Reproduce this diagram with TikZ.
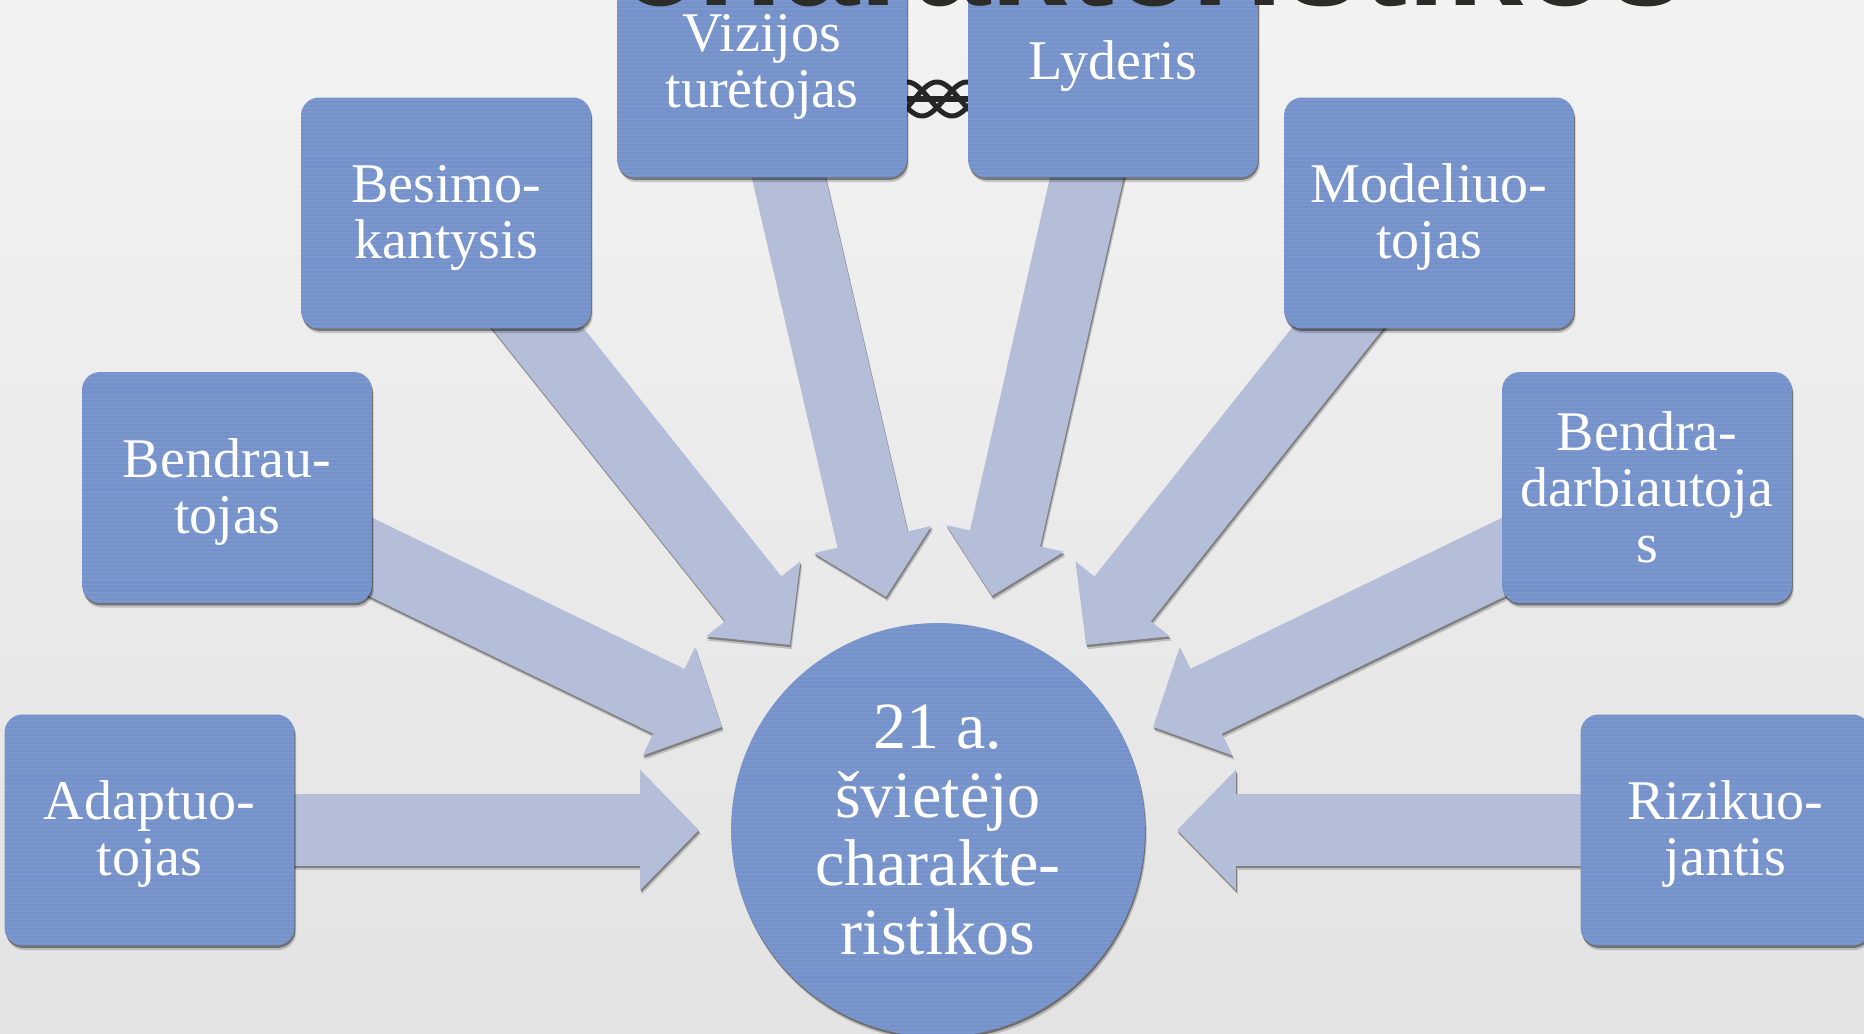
\documentclass[tikz,border=0pt]{standalone}
\usepackage{fontspec}
\setmainfont{Liberation Serif}
\newfontfamily\titlefont{Liberation Sans}
\usetikzlibrary{arrows.meta,backgrounds,shadows}
\definecolor{boxblue}{HTML}{7491CA}
\definecolor{arrowblue}{HTML}{B5BED8}
\definecolor{titleblack}{HTML}{2B2B28}
\newcommand{\lowline}{\rule{0pt}{0.95cm}}
\tikzset{
	stripes/.style={path picture={\foreach \i in {-52,...,52} \draw[white,opacity=.06,line width=1.1pt] ([yshift=\i*2.3pt]path picture bounding box.west) -- ([yshift=\i*2.3pt]path picture bounding box.east);}},
	softshadow/.style={drop shadow={shadow xshift=1pt,shadow yshift=-2.6pt,opacity=.18,fill=black},drop shadow={shadow xshift=.5pt,shadow yshift=-1.4pt,opacity=.4,fill=black}},
	rolebox/.style={rectangle,rounded corners=0.36cm,fill=boxblue,minimum width=5.8cm,minimum height=4.62cm,inner sep=0,align=center,text=white,font=\fontsize{31.9}{31.9}\selectfont,stripes,softshadow},
	hubcircle/.style={circle,fill=boxblue,minimum size=8.28cm,inner sep=0,align=center,text=white,font=\fontsize{37.6}{39}\selectfont,stripes,softshadow},
	fatarrow/.style={line width=1.44cm,-{Triangle[length=1.18cm,width=2.34cm]}},
	rope/.style={line width=0.1cm,draw=black!85}
}
\begin{document}
\begin{tikzpicture}[x=0.02cm,y=-0.02cm]
	\useasboundingbox (0,0) rectangle (1864,1034);
	\node[rolebox] (adaptuo) at (149.5,830) {\lowline Adaptuo-\\tojas};
	\node[rolebox] (bendrau) at (227,487.5) {\lowline Bendrau-\\tojas};
	\node[rolebox] (besimo) at (446,213) {\lowline Besimo-\\kantysis};
	\node[rolebox] (vizijos) at (762,62) {\lowline Vizijos\\turėtojas};
	\node[rolebox] (lyderis) at (1113,62) {\lowline Lyderis};
	\node[rolebox] (modeliuo) at (1429,213) {\lowline Modeliuo-\\tojas};
	\node[rolebox] (bendra) at (1647,487.5) {Bendra-\\darbiautoja\\s};
	\node[rolebox] (rizikuo) at (1725.5,830) {\lowline Rizikuo-\\jantis};
	\node[hubcircle] (hub) at (938,830) {21 a.\\švietėjo\\charakte-\\ristikos};
	\node[anchor=base,text=titleblack,font=\titlefont\bfseries\fontsize{79}{79}\selectfont] (title) at (1153,6) {charakteristikos};
	\coordinate (adaptuotip) at (699,830);
	\coordinate (bendrautip) at (722,727);
	\coordinate (besimotip) at (790,645);
	\coordinate (vizijostip) at (886,597);
	\coordinate (lyderistip) at (992,596);
	\coordinate (modeliuotip) at (1086,645);
	\coordinate (bendratip) at (1153,727);
	\coordinate (rizikuotip) at (1177,830);
	\begin{scope}[on background layer]
		\shade[top color=black!5,bottom color=black!11] (0,0) rectangle (1864,1034);
		\foreach \t in {907,937,967}
			\draw[rope] plot[domain=900:975,samples=40] (\x,{99-17*cos(4*(\x-\t))});
		\draw[line width=0.12cm,draw=black!85] (vizijos.center |- 0,99) -- (lyderis.center |- 0,99);
		\foreach \who in {adaptuo,bendrau,besimo,vizijos,lyderis,modeliuo,bendra,rizikuo} {
			\draw[fatarrow,draw=black!25,transform canvas={xshift=1pt,yshift=-2.4pt}] (\who.center) -- (\who tip);
			\draw[fatarrow,draw=black!50,transform canvas={xshift=.5pt,yshift=-1.3pt}] (\who.center) -- (\who tip);
			\draw[fatarrow,draw=arrowblue] (\who.center) -- (\who tip);
		}
	\end{scope}
\end{tikzpicture}
\end{document}
